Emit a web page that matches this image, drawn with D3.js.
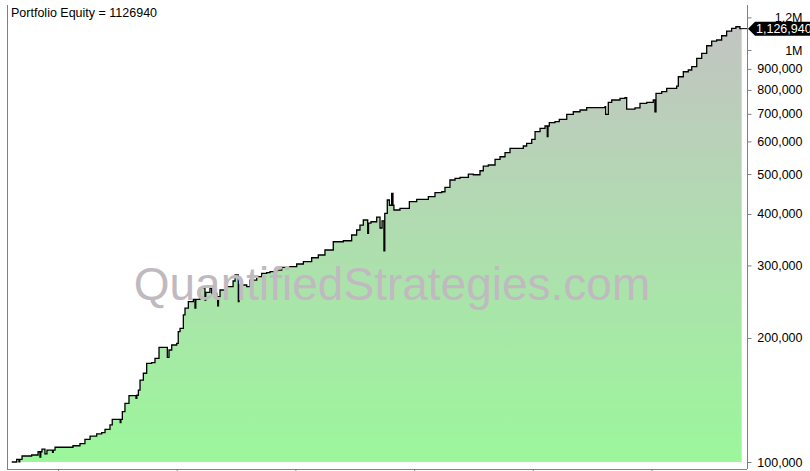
<!DOCTYPE html>
<html>
<head>
<meta charset="utf-8">
<script src="https://cdn.jsdelivr.net/npm/d3@7"></script>
<style>
  html, body { margin: 0; padding: 0; background: #fff; }
  svg { display: block; }
  text { font-family: "Liberation Sans", Arial, sans-serif; }
</style>
</head>
<body>
<div id="chart"></div>
<script>
// ---- data (decimal-year time, equity value) ----
const times = [
  2016.610, 2016.652, 2016.671, 2016.678, 2016.697, 2016.778, 2016.832, 2016.848, 2016.855, 2016.865,
  2016.890, 2016.907, 2016.954, 2016.960, 2016.975, 2017.126, 2017.185, 2017.227, 2017.270, 2017.326,
  2017.368, 2017.396, 2017.438, 2017.457, 2017.524, 2017.530, 2017.542, 2017.564, 2017.598, 2017.657,
  2017.664, 2017.677, 2017.691, 2017.719, 2017.747, 2017.789, 2017.817, 2017.851, 2017.921, 2017.935,
  2017.958, 2018.000, 2018.013, 2018.028, 2018.056, 2018.070, 2018.098, 2018.140, 2018.154, 2018.161,
  2018.196, 2018.238, 2018.245, 2018.280, 2018.295, 2018.337, 2018.345, 2018.352, 2018.365, 2018.421,
  2018.475, 2018.492, 2018.519, 2018.525, 2018.590, 2018.618, 2018.674, 2018.716, 2018.758, 2018.786,
  2018.842, 2018.885, 2018.940, 2019.011, 2019.067, 2019.137, 2019.193, 2019.249, 2019.319, 2019.404,
  2019.474, 2019.516, 2019.544, 2019.572, 2019.609, 2019.616, 2019.637, 2019.685, 2019.713, 2019.730,
  2019.746, 2019.753, 2019.774, 2019.792, 2019.811, 2019.822, 2019.830, 2019.881, 2019.960, 2020.022,
  2020.120, 2020.176, 2020.233, 2020.260, 2020.302, 2020.345, 2020.387, 2020.457, 2020.499, 2020.555,
  2020.583, 2020.625, 2020.682, 2020.724, 2020.766, 2020.808, 2020.920, 2020.948, 2020.991, 2021.019,
  2021.061, 2021.103, 2021.122, 2021.128, 2021.139, 2021.187, 2021.223, 2021.286, 2021.341, 2021.398,
  2021.454, 2021.608, 2021.614, 2021.636, 2021.665, 2021.735, 2021.777, 2021.791, 2021.861, 2021.903,
  2021.960, 2022.015, 2022.029, 2022.038, 2022.086, 2022.128, 2022.212, 2022.226, 2022.268, 2022.310,
  2022.339, 2022.381, 2022.423, 2022.465, 2022.507, 2022.549, 2022.591, 2022.633, 2022.675, 2022.711,
  2022.745, 2022.760
];
const equity = [
  100000, 101500, 100100, 101500, 103400, 104000, 105900, 102800, 105900, 107500,
  104600, 106900, 105600, 106900, 108600, 109500, 110800, 113500, 115600, 117000,
  117800, 120000, 123000, 126900, 124600, 126900, 132500, 138800, 144900, 142800,
  145200, 149500, 158100, 164200, 173600, 174200, 178500, 189800, 179500, 187000,
  192300, 194100, 207200, 211100, 227500, 236200, 245000, 248300, 236200, 248300,
  264000, 247300, 258000, 264000, 256700, 251900, 239200, 251900, 261500, 266400,
  275000, 284400, 245000, 268900, 266400, 276500, 281700, 287100, 288100, 289700,
  292400, 296900, 297900, 302400, 306300, 313200, 318000, 327000, 342500, 344400,
  355600, 365700, 376000, 386700, 359000, 380000, 383000, 393200, 369800, 385000,
  325700, 401400, 432500, 420000, 449000, 420000, 409000, 412900, 428400, 434200,
  440500, 450500, 452900, 464200, 483600, 488200, 490900, 500000, 498000, 509300,
  522900, 525900, 542900, 550800, 563300, 577300, 584800, 593700, 607200, 633500,
  645700, 654000, 616000, 654000, 666200, 669900, 678900, 698100, 708300, 715100,
  724400, 728500, 698100, 746700, 756300, 763500, 766000, 719000, 724000, 742500,
  746700, 756300, 708300, 785100, 792100, 807200, 817700, 861300, 885700, 894300,
  911000, 954700, 981800, 1024300, 1051500, 1057500, 1083000, 1112000, 1129000, 1139000,
  1126940, 1126940
];
const yTickValues = [100000, 200000, 300000, 400000, 500000, 600000, 700000, 800000, 900000, 1000000, 1200000];
const yTickLabels = ["100,000", "200,000", "300,000", "400,000", "500,000", "600,000", "700,000", "800,000", "900,000", "1M", "1.2M"];
const xTickValues = [2017, 2018, 2019, 2020, 2021, 2022];
const titleText = "Portfolio Equity = 1126940";
const lastValueLabel = "1,126,940";
const watermarkText = "QuantifiedStrategies.com";

// ---- layout ----
const W = 810, H = 471;
const plotLeft = 7, plotRight = 747, plotTop = 5, axisBottom = 469;

const data = times.map((t, i) => ({ t, v: equity[i] }));

const x = d3.scaleLinear().domain([2016.5703, 2022.8046]).range([plotLeft, plotRight]);
const y = d3.scaleLog().domain([100000, 1200000]).range([462, 17.4]);

const svg = d3.select("#chart").append("svg")
  .attr("width", W).attr("height", H)
  .attr("viewBox", `0 0 ${W} ${H}`);

svg.append("rect").attr("width", W).attr("height", H).attr("fill", "#fff");

// gradient
const defs = svg.append("defs");
const grad = defs.append("linearGradient")
  .attr("id", "fillGrad")
  .attr("gradientUnits", "userSpaceOnUse")
  .attr("x1", 0).attr("x2", 0)
  .attr("y1", y(1200000)).attr("y2", y(100000));
grad.append("stop").attr("offset", "0%").attr("stop-color", "#c3c3c3");
grad.append("stop").attr("offset", "100%").attr("stop-color", "#9bf79b");

const area = d3.area()
  .x(d => x(d.t))
  .y0(y(100000))
  .y1(d => y(d.v))
  .curve(d3.curveStepAfter);

const line = d3.line()
  .x(d => x(d.t))
  .y(d => y(d.v))
  .curve(d3.curveStepAfter);

svg.append("path").datum(data).attr("d", area).attr("fill", "url(#fillGrad)");
svg.append("path").datum(data).attr("d", line)
  .attr("fill", "none").attr("stroke", "#000").attr("stroke-width", 1.3);

// trailing connector from last point to axis
const last = data[data.length - 1];
svg.append("line")
  .attr("x1", x(last.t)).attr("x2", plotRight)
  .attr("y1", y(last.v)).attr("y2", y(last.v))
  .attr("stroke", "#000").attr("stroke-width", 1);

// watermark (drawn over the chart)
svg.append("text")
  .attr("x", 392).attr("y", 300)
  .attr("text-anchor", "middle")
  .attr("font-size", 46)
  .attr("fill", "#c0bac0")
  .text(watermarkText);

// frame: left line
svg.append("line")
  .attr("x1", plotLeft + 0.5).attr("x2", plotLeft + 0.5)
  .attr("y1", plotTop).attr("y2", axisBottom)
  .attr("stroke", "#808080").attr("stroke-width", 1);

// right axis
const yAxis = d3.axisRight(y)
  .tickValues(yTickValues)
  .tickFormat((d, i) => yTickLabels[i])
  .tickSize(4)
  .tickPadding(10);
const gy = svg.append("g").attr("transform", `translate(${plotRight + 0.5},0)`).call(yAxis);
gy.select(".domain").attr("stroke", "#808080")
  .attr("d", `M0,${plotTop}V${axisBottom}`);
gy.selectAll(".tick line").attr("stroke", "#808080");
gy.selectAll(".tick text")
  .attr("font-size", 12.5)
  .attr("font-family", "'Liberation Sans', Arial, sans-serif")
  .attr("fill", "#000")
  .attr("text-anchor", "end")
  .attr("x", 55);

// bottom axis
const xAxis = d3.axisBottom(x)
  .tickValues(xTickValues)
  .tickFormat("")
  .tickSize(4);
const gx = svg.append("g").attr("transform", `translate(0,${axisBottom + 0.5})`).call(xAxis);
gx.select(".domain").attr("stroke", "#808080")
  .attr("d", `M${plotLeft},0H${plotRight}`);
gx.selectAll(".tick line").attr("stroke", "#808080");

// last value tag
const ty = y(last.v);
const tagX = plotRight + 1;
svg.append("path")
  .attr("d", `M${tagX},${ty} L${tagX + 7},${ty - 7} L${W},${ty - 7} L${W},${ty + 7} L${tagX + 7},${ty + 7} Z`)
  .attr("fill", "#000");
svg.append("text")
  .attr("x", tagX + 8).attr("y", ty + 4.5)
  .attr("font-size", 12.5)
  .attr("fill", "#fff")
  .text(lastValueLabel);

// title
svg.append("text")
  .attr("x", 11).attr("y", 17)
  .attr("font-size", 12.5)
  .attr("fill", "#000")
  .text(titleText);
</script>
</body>
</html>
